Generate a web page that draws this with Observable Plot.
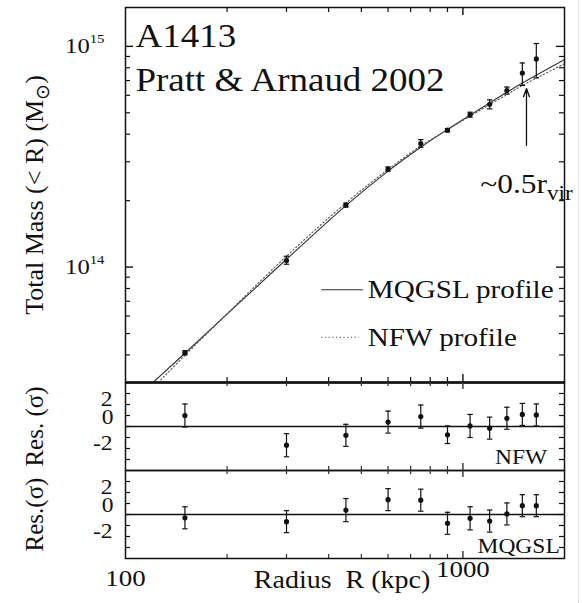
<!DOCTYPE html>
<html><head><meta charset="utf-8">
<script src="https://cdn.jsdelivr.net/npm/d3@7"></script>
<script src="https://cdn.jsdelivr.net/npm/@observablehq/plot@0.6"></script>
<style>
html,body{margin:0;padding:0;background:#fff;}
#chart{position:relative;width:583px;height:603px;background:#fff;overflow:hidden;}
#chart > div{position:absolute;left:0;}
#chart > .edge{position:absolute;left:578px;top:0;width:0;height:603px;border-left:1px dotted #d0d0d0;}
</style></head><body><div id="chart"><div class="edge"></div></div>
<script>
// ---------- data ----------
const radius   = [150, 300, 450, 600, 750, 900, 1050, 1200, 1350, 1500, 1650];
const mass     = [4.09e13, 1.07e14, 1.91e14, 2.78e14, 3.63e14, 4.17e14, 4.90e14, 5.46e14, 6.31e14, 7.57e14, 8.77e14];
const massLow  = [4.00e13, 1.03e14, 1.87e14, 2.72e14, 3.49e14, 4.10e14, 4.78e14, 5.21e14, 6.08e14, 6.65e14, 7.20e14];
const massHigh = [4.18e13, 1.12e14, 1.95e14, 2.84e14, 3.78e14, 4.24e14, 5.03e14, 5.72e14, 6.54e14, 8.41e14, 1.03e15];

const nfwRes   = [1.0, -1.7, -0.8, 0.4, 0.9, -0.75, 0.05, -0.15, 0.75, 1.1, 1.05];
const nfwErr   = [1.05, 1.05, 1.0, 1.0, 1.05, 0.8, 1.05, 1.0, 1.0, 1.0, 1.0];
const mqgslRes = [-0.3, -0.65, 0.4, 1.35, 1.3, -0.8, -0.35, -0.6, 0.05, 0.8, 0.8];
const mqgslErr = [1.0, 1.0, 1.05, 1.0, 1.0, 1.0, 1.05, 1.0, 1.0, 1.0, 1.0];

// model curves
const mqgslCurveR = [120, 150, 300, 450, 600, 750, 900, 1050, 1350, 1500, 2000];
const mqgslCurveM = [2.98e13, 4.07e13, 1.085e14, 1.90e14, 2.72e14, 3.49e14, 4.20e14, 4.88e14, 6.20e14, 6.82e14, 8.71e14];
const nfwCurveR   = [125, 150, 300, 450, 600, 750, 900, 1050, 1350, 1500, 2000];
const nfwCurveM   = [3.0e13, 3.98e13, 1.12e14, 1.95e14, 2.77e14, 3.54e14, 4.19e14, 4.83e14, 6.05e14, 6.65e14, 8.34e14];

const seriesNames = ["MQGSL profile", "NFW profile"];
const panelNames  = ["NFW", "MQGSL"];
const titleLines  = ["A1413", "Pratt & Arnaud 2002"];

// annotation arrow (~0.5 r_vir)
const arrowR = [1543], arrowFrom = [3.56e14], arrowTo = [6.44e14], arrowLabel = ["~0.5r_{vir}"];

// ticks
const xMinorTicks = [200, 300, 400, 500, 600, 700, 800, 900];
const xMajorTicks = [1000];
const xTickLabels = ["100", "1000"];
const yMinorTicks = [4e13, 5e13, 6e13, 7e13, 8e13, 9e13, 2e14, 3e14, 4e14, 5e14, 6e14, 7e14, 8e14, 9e14];
const yMajorTicks = [1e14, 1e15];
const yTickLabels = ["10^{14}", "10^{15}"];
const resTicks = [-3, -2, -1, 0, 1, 2, 3];
const resTickLabelsOuter = [2, -2];
const resTickLabelsZero = [0];
const yLabels = ["Total Mass (< R) (M_{⊙})", "Res. (σ)", "Res.(σ)"];
const xLabel = "Radius\u00a0 R (kpc)";

// ---------- tables ----------
const mainRows = radius.map((r, i) => ({r, m: mass[i], lo: massLow[i], hi: massHigh[i]}));
const nfwRows = radius.map((r, i) => ({r, v: nfwRes[i], lo: nfwRes[i] - nfwErr[i], hi: nfwRes[i] + nfwErr[i]}));
const mqRows = radius.map((r, i) => ({r, v: mqgslRes[i], lo: mqgslRes[i] - mqgslErr[i], hi: mqgslRes[i] + mqgslErr[i]}));
const mqCurve = mqgslCurveR.map((r, i) => ({r, m: mqgslCurveM[i]}));
const nfwCurve = nfwCurveR.map((r, i) => ({r, m: nfwCurveM[i]}));
const arrowRows = arrowR.map((r, i) => ({r, from: arrowFrom[i], to: arrowTo[i], label: arrowLabel[i]}));

// ---------- layout ----------
const FONT = "'Liberation Serif','Times New Roman',serif";
const INK = "#111";
const W = 583, ML = 125, MR = 19, FW = W - ML - MR;
const STYLE = {fontFamily: FONT, overflow: "visible", background: "transparent", color: INK};
const xScale = {type: "log", domain: [100, 2000], axis: null};
const hline = {draw(ctx, size) { const r = Math.sqrt(size / Math.PI); ctx.moveTo(-r, 0); ctx.lineTo(r, 0); }};

function xTickMarks(fh, minor = 5, major = 8, color = INK) {
  return [
    Plot.ruleX(xMinorTicks, {x: d => d, insetBottom: fh - minor, stroke: color, strokeWidth: 1.2}),
    Plot.ruleX(xMajorTicks, {x: d => d, insetBottom: fh - major, stroke: color, strokeWidth: 1.4}),
    Plot.ruleX(xMinorTicks, {x: d => d, insetTop: fh - minor, stroke: color, strokeWidth: 1.2}),
    Plot.ruleX(xMajorTicks, {x: d => d, insetTop: fh - major, stroke: color, strokeWidth: 1.4})
  ];
}
function yTickMarks(minorT, majorT, minor = 5, major = 8) {
  const m = [
    Plot.ruleY(minorT, {y: d => d, insetRight: FW - minor, stroke: INK, strokeWidth: 1.2}),
    Plot.ruleY(minorT, {y: d => d, insetLeft: FW - minor, stroke: INK, strokeWidth: 1.2})
  ];
  if (majorT.length) m.push(
    Plot.ruleY(majorT, {y: d => d, insetRight: FW - major, stroke: INK, strokeWidth: 1.4}),
    Plot.ruleY(majorT, {y: d => d, insetLeft: FW - major, stroke: INK, strokeWidth: 1.4})
  );
  return m;
}
function residualMarks(rows) {
  return [
    Plot.ruleY([0], {stroke: INK, strokeWidth: 1.3}),
    Plot.ruleX(rows, {x: "r", y1: "lo", y2: "hi", stroke: INK, strokeWidth: 1.2}),
    Plot.dot(rows, {x: "r", y: "lo", symbol: hline, r: 2.7, stroke: INK, fill: "none", strokeWidth: 1.2}),
    Plot.dot(rows, {x: "r", y: "hi", symbol: hline, r: 2.7, stroke: INK, fill: "none", strokeWidth: 1.2}),
    Plot.dot(rows, {x: "r", y: "v", r: 2.6, fill: INK}),
    Plot.text(resTickLabelsOuter, {y: d => d, text: d => String(d), frameAnchor: "left", textAnchor: "end", dx: -13, dy: -5, fontSize: 21, fill: INK}),
    Plot.text(resTickLabelsZero, {y: d => d, text: d => String(d), frameAnchor: "left", textAnchor: "end", dx: -12, dy: -9, fontSize: 21, fill: INK})
  ];
}

// ---------- main panel ----------
const hA = 383, fhA = hA - 7 - 1;
const plotA = Plot.plot({
  width: W, height: hA, marginTop: 7, marginBottom: 1, marginLeft: ML, marginRight: MR,
  x: xScale, y: {type: "log", domain: [3e13, 1.5e15], axis: null},
  style: STYLE,
  marks: [
    Plot.frame({stroke: INK, strokeWidth: 1.5}),
    Plot.ruleY([3e13], {stroke: INK, strokeWidth: 2.5}),
    ...xTickMarks(fhA, 5, 8),
    ...yTickMarks(yMinorTicks, yMajorTicks, 5, 8),
    Plot.line(mqCurve, {x: "r", y: "m", curve: "catmull-rom", stroke: "#333", strokeWidth: 1.1, clip: true}),
    Plot.line(nfwCurve, {x: "r", y: "m", curve: "catmull-rom", stroke: "#555", strokeWidth: 1.1, strokeDasharray: "1.3,2.4", clip: true}),
    Plot.ruleX(mainRows, {x: "r", y1: "lo", y2: "hi", stroke: INK, strokeWidth: 1.2}),
    Plot.dot(mainRows, {x: "r", y: "lo", symbol: hline, r: 2.7, stroke: INK, fill: "none", strokeWidth: 1.2}),
    Plot.dot(mainRows, {x: "r", y: "hi", symbol: hline, r: 2.7, stroke: INK, fill: "none", strokeWidth: 1.2}),
    Plot.dot(mainRows, {x: "r", y: "m", r: 2.6, fill: INK}),
    Plot.arrow(arrowRows, {x1: "r", x2: "r", y1: "from", y2: "to", stroke: INK, strokeWidth: 1.3, headLength: 10, headAngle: 40}),
    Plot.text(arrowRows, {x: "r", y: "from", text: "label", dy: 47.7, lineAnchor: "bottom", fontSize: 28, fill: INK}),
    Plot.text([titleLines[0]], {text: d => d, frameAnchor: "top-left", dx: 10, dy: 39, textAnchor: "start", lineAnchor: "bottom", fontSize: 33, fill: INK}),
    Plot.text([titleLines[1]], {text: d => d, frameAnchor: "top-left", dx: 10, dy: 83, textAnchor: "start", lineAnchor: "bottom", fontSize: 33, fill: INK}),
    Plot.text(yMajorTicks, {y: d => d, text: (d, i) => yTickLabels[i], frameAnchor: "left", textAnchor: "end", dx: -21, fontSize: 22, fill: INK}),
    Plot.text([yLabels[0]], {text: d => d, frameAnchor: "left", dx: -83, rotate: -90, textAnchor: "middle", lineAnchor: "bottom", fontSize: 26, fill: INK}),
    // legend
    Plot.dot([seriesNames[0]], {frameAnchor: "top-left", dx: 216.7, dy: 282.3, symbol: hline, r: 21, stroke: "#333", strokeWidth: 1.1, fill: "none"}),
    Plot.dot([seriesNames[1]], {frameAnchor: "top-left", dx: 214.5, dy: 329.7, symbol: hline, r: 18.8, stroke: "#555", strokeWidth: 1.1, strokeDasharray: "1.3,2.4", fill: "none"}),
    Plot.text([seriesNames[0]], {text: d => d, frameAnchor: "top-left", dx: 242.3, dy: 290.3, textAnchor: "start", lineAnchor: "bottom", fontSize: 26, fill: INK}),
    Plot.text([seriesNames[1]], {text: d => d, frameAnchor: "top-left", dx: 242.3, dy: 338.7, textAnchor: "start", lineAnchor: "bottom", fontSize: 26, fill: INK})
  ]
});

// ---------- NFW residual panel ----------
const hB = 90, fhB = 88;
const plotB = Plot.plot({
  width: W, height: hB, marginTop: 1, marginBottom: 1, marginLeft: ML, marginRight: MR,
  x: xScale, y: {domain: [-4, 4], axis: null},
  style: STYLE,
  marks: [
    Plot.frame({stroke: INK, strokeWidth: 1.5}),
    ...xTickMarks(fhB, 4, 7, "#333"),
    ...yTickMarks(resTicks, [], 5, 5),
    ...residualMarks(nfwRows),
    Plot.text([panelNames[0]], {text: d => d, frameAnchor: "bottom-right", dx: -17.3, dy: -6.7, textAnchor: "end", lineAnchor: "bottom", fontSize: 21, fill: INK}),
    Plot.text([yLabels[1]], {text: d => d, frameAnchor: "left", dx: -83, rotate: -90, textAnchor: "middle", lineAnchor: "bottom", fontSize: 25, fill: INK})
  ]
});

// ---------- MQGSL residual panel ----------
const hC = 134, fhC = 88;
const plotC = Plot.plot({
  width: W, height: hC, marginTop: 1, marginBottom: 45, marginLeft: ML, marginRight: MR,
  x: xScale, y: {domain: [-4, 4], axis: null},
  style: STYLE,
  marks: [
    Plot.frame({stroke: INK, strokeWidth: 1.5}),
    ...xTickMarks(fhC, 4, 7, "#333"),
    ...yTickMarks(resTicks, [], 5, 5),
    ...residualMarks(mqRows),
    Plot.text([panelNames[1]], {text: d => d, frameAnchor: "bottom-right", dx: -4.7, dy: -5.3, textAnchor: "end", lineAnchor: "bottom", fontSize: 21, fill: INK}),
    Plot.text([yLabels[2]], {text: d => d, frameAnchor: "left", dx: -83, rotate: -90, textAnchor: "middle", lineAnchor: "bottom", fontSize: 25, fill: INK}),
    Plot.text([100], {x: d => d, text: () => xTickLabels[0], frameAnchor: "bottom", dy: 27, lineAnchor: "bottom", fontSize: 24, fill: INK}),
    Plot.text([1000], {x: d => d, text: () => xTickLabels[1], frameAnchor: "bottom", dy: 18.7, lineAnchor: "bottom", fontSize: 24, fill: INK}),
    Plot.text([xLabel], {text: d => d, frameAnchor: "bottom-left", dx: 128.3, dy: 29.3, textAnchor: "start", lineAnchor: "bottom", fontSize: 25, fill: INK})
  ]
});

// ---------- assemble ----------
const chart = document.getElementById("chart");
[[plotA, 0], [plotB, 381], [plotC, 469]].forEach(([svg, top]) => {
  const d = document.createElement("div");
  d.style.top = top + "px";
  d.appendChild(svg);
  chart.appendChild(d);
});

// rich text: ^{..} superscript, _{..} subscript
function richify(svg) {
  d3.select(svg).selectAll("text").each(function () {
    const t = this.textContent;
    if (!/[\^_]\{/.test(t)) return;
    const fs = parseFloat(getComputedStyle(this).fontSize) || 16;
    const sel = d3.select(this);
    sel.text(null);
    let shift = 0, last = 0, m;
    const re = /([\^_])\{([^}]*)\}/g;
    const add = (str, kind) => {
      const target = kind === "^" ? -0.48 * fs : kind === "_" ? 0.26 * fs : 0;
      const ts = sel.append("tspan").text(str);
      if (Math.abs(target - shift) > 0.01) ts.attr("dy", target - shift);
      if (kind) ts.attr("font-size", (kind === "^" ? 0.6 : 0.74) * fs);
      shift = target;
    };
    while ((m = re.exec(t))) {
      if (m.index > last) add(t.slice(last, m.index), null);
      add(m[2], m[1]);
      last = re.lastIndex;
    }
    if (last < t.length) add(t.slice(last), null);
  });
}
// the reference's lettering is horizontally stretched (skip rotated labels)
function stretch(svg, k) {
  d3.select(svg).selectAll("text").each(function () {
    const ctm = this.getCTM();
    if (ctm && Math.abs(ctm.b) > 0.01) return;
    let el = this, rotated = false;
    while (el && el !== svg) { if (/rotate/.test(el.getAttribute && el.getAttribute("transform") || "")) rotated = true; el = el.parentNode; }
    if (rotated) return;
    const L = this.getComputedTextLength();
    if (L > 0) { this.setAttribute("textLength", (L * k).toFixed(2)); this.setAttribute("lengthAdjust", "spacingAndGlyphs"); }
  });
}
[plotA, plotB, plotC].forEach(svg => { richify(svg); stretch(svg, 1.12); });
</script></body></html>
